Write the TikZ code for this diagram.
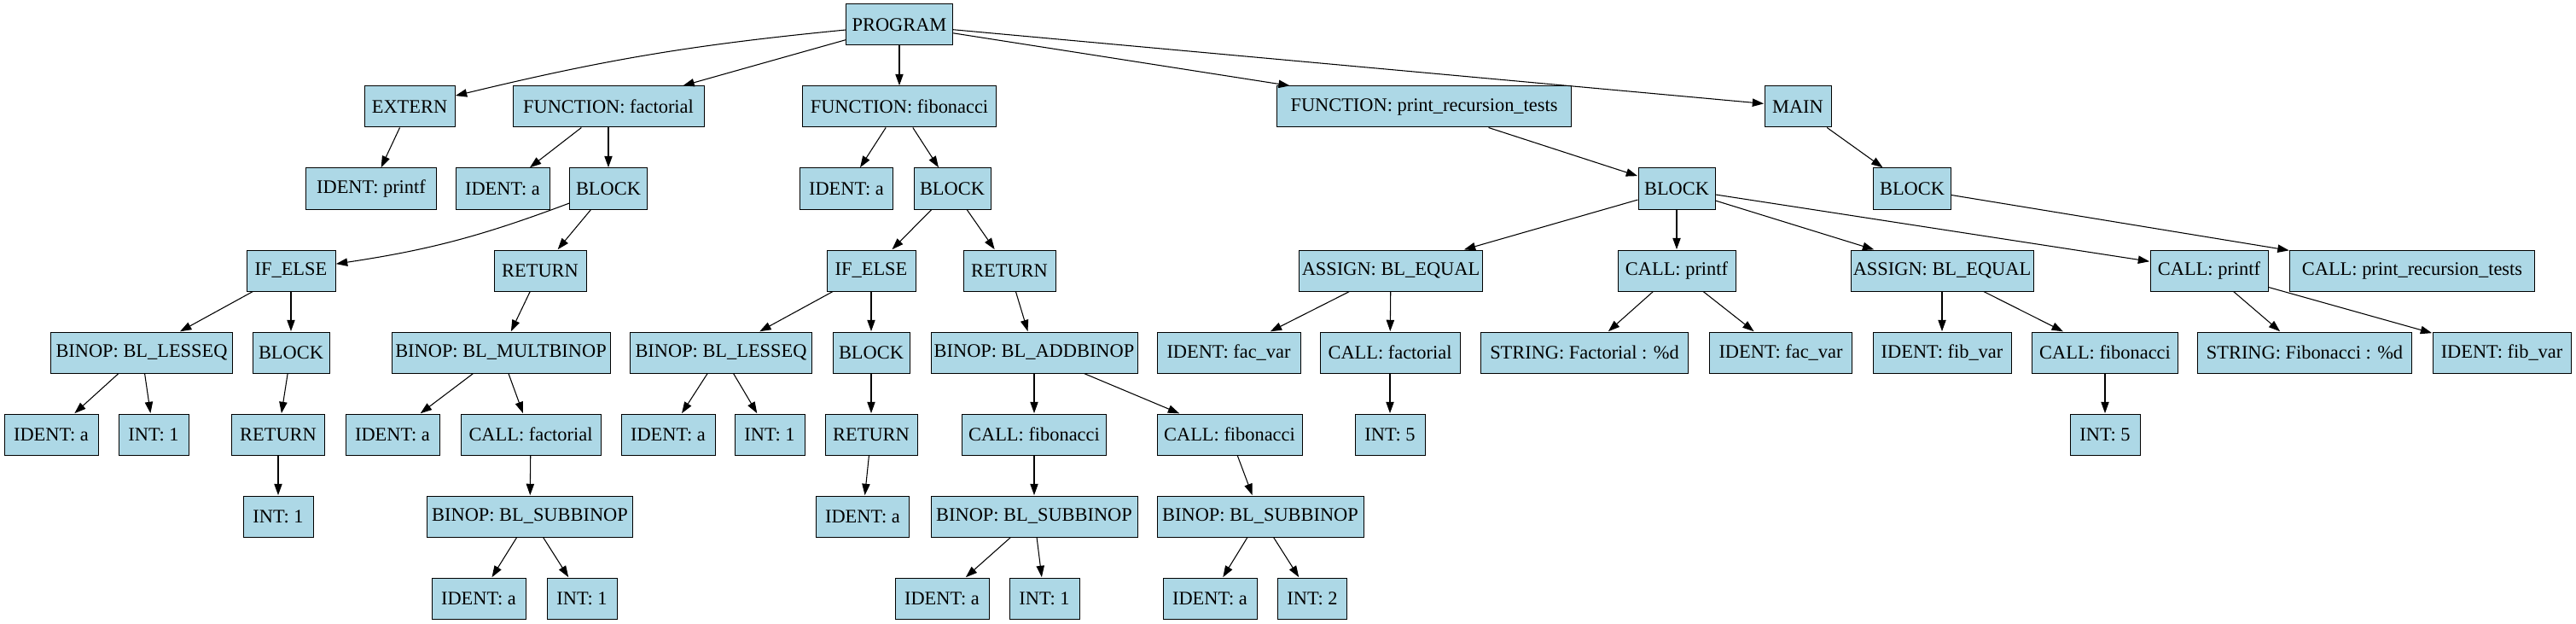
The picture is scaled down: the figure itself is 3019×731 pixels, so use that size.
\documentclass[tikz,border=0pt]{standalone}
\usepackage{fontspec}
\setmainfont{Liberation Serif}
\usetikzlibrary{arrows.meta}
\definecolor{lb}{RGB}{173,216,230}
\tikzset{
  box/.style={draw=black, fill=lb, line width=0.75pt, rectangle, inner xsep=0pt, inner ysep=0pt,
    minimum height=36pt, minimum width=#1*0.75pt, font=\fontsize{16.8}{20}\selectfont},
  edge/.style={draw=black, line width=0.8pt, -{Triangle[length=10pt,width=7pt]}, shorten >=0.3pt}
}
\begin{document}
\begin{tikzpicture}[x=0.75pt,y=-0.75pt]
\useasboundingbox (0,0) rectangle (3019,731);
% row 1
\node[box=125] (prog) at (1054,29) {PROGRAM};
% row 2
\node[box=106] (ext) at (480,125) {EXTERN};
\node[box=224] (ffac) at (713,125) {FUNCTION: factorial};
\node[box=227] (ffib) at (1054,125) {FUNCTION: fibonacci};
\node[box=345] (fprt) at (1669,125) {FUNCTION: print\_recursion\_tests};
\node[box=78] (main) at (2107,125) {MAIN};
% row 3
\node[box=153] (idp) at (435,221) {IDENT: printf};
\node[box=110] (ida1) at (589,221) {IDENT: a};
\node[box=91] (blk1) at (713,221) {BLOCK};
\node[box=109] (ida2) at (992,221) {IDENT: a};
\node[box=90] (blk2) at (1116,221) {BLOCK};
\node[box=90] (blk3) at (1965,221) {BLOCK};
\node[box=91] (blk4) at (2241,221) {BLOCK};
% row 4
\node[box=104] (ife1) at (341,317) {IF\_ELSE};
\node[box=108] (ret1) at (633,317) {RETURN};
\node[box=104] (ife2) at (1021,317) {IF\_ELSE};
\node[box=108] (ret2) at (1183,317) {RETURN};
\node[box=215] (asg1) at (1630,317) {ASSIGN: BL\_EQUAL};
\node[box=138] (cpf1) at (1965,317) {CALL: printf};
\node[box=214] (asg2) at (2276,317) {ASSIGN: BL\_EQUAL};
\node[box=138] (cpf2) at (2589,317) {CALL: printf};
\node[box=287] (cprt) at (2827,317) {CALL: print\_recursion\_tests};
% row 5
\node[box=213] (le1) at (166,413) {BINOP: BL\_LESSEQ};
\node[box=90] (blk5) at (341,413) {BLOCK};
\node[box=256] (mul) at (587,413) {BINOP: BL\_MULTBINOP};
\node[box=213] (le2) at (845,413) {BINOP: BL\_LESSEQ};
\node[box=90] (blk6) at (1021,413) {BLOCK};
\node[box=242] (add) at (1212,413) {BINOP: BL\_ADDBINOP};
\node[box=168] (fv1) at (1440,413) {IDENT: fac\_var};
\node[box=164] (cf1) at (1629,413) {CALL: factorial};
\node[box=243] (s1) at (1857,413) {STRING: Factorial : \%d};
\node[box=167] (fv2) at (2087,413) {IDENT: fac\_var};
\node[box=162] (bv1) at (2276,413) {IDENT: fib\_var};
\node[box=171] (cb1) at (2467,413) {CALL: fibonacci};
\node[box=251] (s2) at (2701,413) {STRING: Fibonacci : \%d};
\node[box=162] (bv2) at (2932,413) {IDENT: fib\_var};
% row 6
\node[box=110] (a1) at (60,509) {IDENT: a};
\node[box=82] (i1) at (180,509) {INT: 1};
\node[box=109] (ret3) at (326,509) {RETURN};
\node[box=110] (a2) at (460,509) {IDENT: a};
\node[box=164] (cf2) at (622,509) {CALL: factorial};
\node[box=110] (a3) at (783,509) {IDENT: a};
\node[box=82] (i2) at (902,509) {INT: 1};
\node[box=108] (ret4) at (1021,509) {RETURN};
\node[box=169] (cfb1) at (1212,509) {CALL: fibonacci};
\node[box=170] (cfb2) at (1441,509) {CALL: fibonacci};
\node[box=82] (i5a) at (1629,509) {INT: 5};
\node[box=82] (i5b) at (2467,509) {INT: 5};
% row 7
\node[box=82] (i3) at (326,605) {INT: 1};
\node[box=241] (sub1) at (621,605) {BINOP: BL\_SUBBINOP};
\node[box=109] (a4) at (1011,605) {IDENT: a};
\node[box=242] (sub2) at (1212,605) {BINOP: BL\_SUBBINOP};
\node[box=242] (sub3) at (1477,605) {BINOP: BL\_SUBBINOP};
% row 8
\node[box=110] (a5) at (561,701) {IDENT: a};
\node[box=82] (i4) at (682,701) {INT: 1};
\node[box=110] (a6) at (1104,701) {IDENT: a};
\node[box=82] (i6) at (1224,701) {INT: 1};
\node[box=110] (a7) at (1418,701) {IDENT: a};
\node[box=81] (i7) at (1538,701) {INT: 2};
% edges
\draw[edge] (prog) to[bend right=4] (ext);
\draw[edge] (blk1) to[bend left=6] (ife1);
\foreach \s/\t in {prog/ffac, prog/ffib, prog/fprt, prog/main,
  ext/idp, ffac/ida1, ffac/blk1, ffib/ida2, ffib/blk2, fprt/blk3, main/blk4,
  blk1/ret1, blk2/ife2, blk2/ret2,
  blk3/asg1, blk3/cpf1, blk3/asg2, blk3/cpf2, blk4/cprt,
  ife1/le1, ife1/blk5, ret1/mul, ife2/le2, ife2/blk6, ret2/add,
  asg1/fv1, asg1/cf1, cpf1/s1, cpf1/fv2, asg2/bv1, asg2/cb1, cpf2/s2, cpf2/bv2,
  le1/a1, le1/i1, blk5/ret3, mul/a2, mul/cf2, le2/a3, le2/i2, blk6/ret4,
  add/cfb1, add/cfb2, cf1/i5a, cb1/i5b,
  ret3/i3, cf2/sub1, ret4/a4, cfb1/sub2, cfb2/sub3,
  sub1/a5, sub1/i4, sub2/a6, sub2/i6, sub3/a7, sub3/i7}
  {\draw[edge] (\s) -- (\t);}
\end{tikzpicture}
\end{document}
